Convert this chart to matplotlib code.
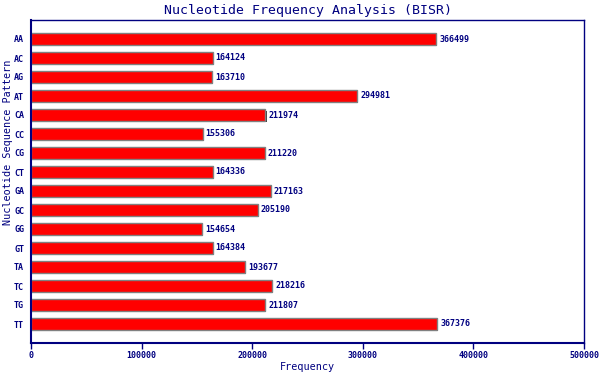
import matplotlib
matplotlib.use("Agg")
import matplotlib.pyplot as plt
import matplotlib.patheffects as pe

patterns = ["AA", "AC", "AG", "AT", "CA", "CC", "CG", "CT",
            "GA", "GC", "GG", "GT", "TA", "TC", "TG", "TT"]
counts = [366499, 164124, 163710, 294981, 211974, 155306, 211220, 164336,
          217163, 205190, 154654, 164384, 193677, 218216, 211807, 367376]
xticks = [0, 100000, 200000, 300000, 400000, 500000]

navy = "#000080"
plt.rcParams["font.family"] = ["DejaVu Sans Mono"]

fig = plt.figure(figsize=(6, 3.8), dpi=100)
ax = fig.add_axes([31 / 600, 1 - 343 / 380, 553 / 600, 323 / 380])

ypos = list(range(len(patterns)))
bars = ax.barh(ypos, counts, height=0.6, color="#ff0000", edgecolor="#808080", linewidth=1)
for b in bars:
    b.set_path_effects([pe.SimplePatchShadow(offset=(0.8, -1.2), shadow_rgbFace="#404040", alpha=1.0), pe.Normal()])

for y, v in zip(ypos, counts):
    ax.text(v + 2500, y, str(v), va="center", ha="left", fontsize=6, color=navy, fontweight="bold")

ax.set_xlim(0, 500000)
ax.set_ylim(len(patterns), -1)
ax.set_yticks(ypos)
ax.set_yticklabels(patterns, fontsize=6, color=navy, fontweight="bold")
ax.set_xticks(xticks)
ax.set_xticklabels([str(t) for t in xticks], fontsize=6, color=navy, fontweight="bold")
ax.tick_params(axis="y", length=0, pad=5)
ax.tick_params(axis="x", length=4, color=navy, width=1, pad=2)

for s in ["left", "bottom"]:
    ax.spines[s].set_color(navy)
    ax.spines[s].set_linewidth(1.5)
for s in ["top", "right"]:
    ax.spines[s].set_color(navy)
    ax.spines[s].set_linewidth(1)

ax.set_xlabel("Frequency", fontsize=7.3, color=navy)
ax.set_ylabel("Nucleotide Sequence Pattern", fontsize=7.3, color=navy)
ax.xaxis.set_label_coords(0.5, (343 - 367) / 323)
ax.yaxis.set_label_coords((8 - 31) / 553, (343 - 142) / 323)
ax.xaxis.label.set_va("center")
ax.yaxis.label.set_va("center")
ax.set_title("Nucleotide Frequency Analysis (BISR)", fontsize=9.5, color=navy, pad=4)

fig.savefig("out.png", dpi=100)
